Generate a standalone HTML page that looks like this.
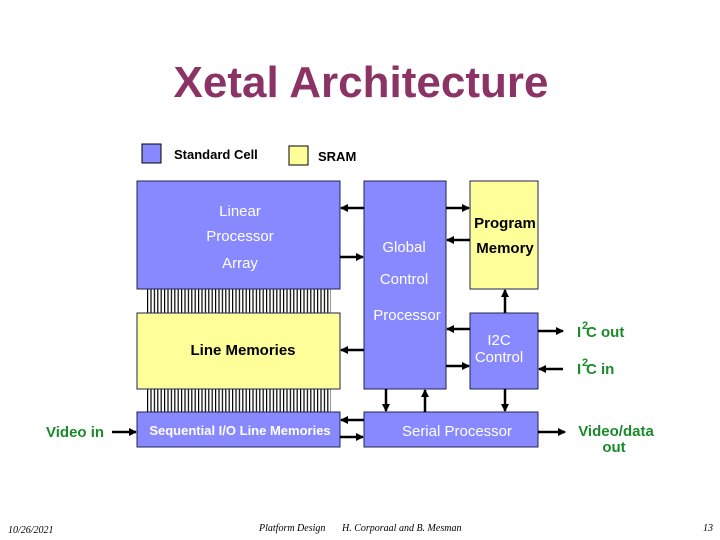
<!DOCTYPE html>
<html><head><meta charset="utf-8"><style>
html,body{margin:0;padding:0;background:#fff;width:720px;height:540px;overflow:hidden}
</style></head><body>
<svg width="720" height="540" xmlns="http://www.w3.org/2000/svg" font-family="Liberation Sans, sans-serif">
<defs>
<marker id="a" markerWidth="8" markerHeight="8" refX="7" refY="4" orient="auto" markerUnits="userSpaceOnUse">
<path d="M0,0 L8,4 L0,8 Z" fill="#000"/></marker>
<pattern id="comb" x="147" y="0" width="3.4" height="10" patternUnits="userSpaceOnUse">
<rect x="0" y="0" width="1.2" height="10" fill="#000"/></pattern>
</defs>
<text x="361" y="97" text-anchor="middle" font-size="44" font-weight="bold" fill="#8c3366">Xetal Architecture</text>
<rect x="142" y="144" width="19" height="19" fill="#8888ff" stroke="#000" stroke-width="1"/>
<text x="174" y="159" font-size="13" font-weight="bold" fill="#000">Standard Cell</text>
<rect x="289" y="146" width="19" height="19" fill="#ffff99" stroke="#000" stroke-width="1"/>
<text x="318" y="161" font-size="13" font-weight="bold" fill="#000">SRAM</text>

<rect x="147" y="289" width="184" height="24" fill="url(#comb)"/>
<rect x="147" y="389" width="184" height="23" fill="url(#comb)"/>

<g stroke="#222255" stroke-width="1">
<rect x="137" y="181" width="203" height="108" fill="#8888ff"/>
<rect x="137" y="313" width="203" height="76" fill="#ffff99"/>
<rect x="137" y="412" width="203" height="35" fill="#8888ff"/>
<rect x="364" y="181" width="82" height="208" fill="#8888ff"/>
<rect x="470" y="181" width="68" height="108" fill="#ffff99"/>
<rect x="470" y="313" width="68" height="76" fill="#8888ff"/>
<rect x="364" y="412" width="174" height="35" fill="#8888ff"/>
</g>

<g font-size="15" fill="#fff" text-anchor="middle">
<text x="240" y="216">Linear</text>
<text x="240" y="241">Processor</text>
<text x="240" y="268">Array</text>
<text x="404" y="252">Global</text>
<text x="404" y="284">Control</text>
<text x="407" y="320">Processor</text>
<text x="499" y="345">I2C</text>
<text x="499" y="362">Control</text>
<text x="457" y="436">Serial Processor</text>
<text x="240" y="435" font-size="13" font-weight="bold">Sequential I/O Line Memories</text>
</g>
<g font-size="15" fill="#000" text-anchor="middle" font-weight="bold">
<text x="243" y="355">Line Memories</text>
<text x="505" y="228">Program</text>
<text x="505" y="253">Memory</text>
</g>

<g stroke="#000" stroke-width="2.5" marker-end="url(#a)">
<line x1="364" y1="208" x2="341" y2="208"/>
<line x1="340" y1="257" x2="363" y2="257"/>
<line x1="446" y1="208" x2="469" y2="208"/>
<line x1="470" y1="240" x2="447" y2="240"/>
<line x1="505" y1="313" x2="505" y2="290"/>
<line x1="470" y1="329" x2="447" y2="329"/>
<line x1="446" y1="366" x2="469" y2="366"/>
<line x1="364" y1="350" x2="341" y2="350"/>
<line x1="386" y1="389" x2="386" y2="411"/>
<line x1="425" y1="412" x2="425" y2="390"/>
<line x1="505" y1="389" x2="505" y2="411"/>
<line x1="364" y1="420" x2="341" y2="420"/>
<line x1="340" y1="437" x2="363" y2="437"/>
<line x1="112" y1="432" x2="136" y2="432"/>
<line x1="538" y1="432" x2="565" y2="432"/>
<line x1="538" y1="331" x2="563" y2="331"/>
<line x1="563" y1="369" x2="539" y2="369"/>
</g>

<g fill="#1a8a2a" font-size="15" font-weight="bold">
<text x="46" y="437">Video in</text>
<text x="577" y="337">I</text><text x="582" y="329" font-size="11">2</text><text x="586" y="337">C out</text>
<text x="577" y="374">I</text><text x="582" y="366" font-size="11">2</text><text x="586" y="374">C in</text>
<text x="616" y="436" text-anchor="middle">Video/data</text>
<text x="614" y="452" text-anchor="middle">out</text>
</g>

<g font-family="Liberation Serif, serif" font-style="italic" font-size="10" fill="#000">
<text x="8" y="533">10/26/2021</text>
<text x="259" y="531">Platform Design</text>
<text x="342" y="531">H. Corporaal and B. Mesman</text>
<text x="703" y="531">13</text>
</g>
</svg>
</body></html>
